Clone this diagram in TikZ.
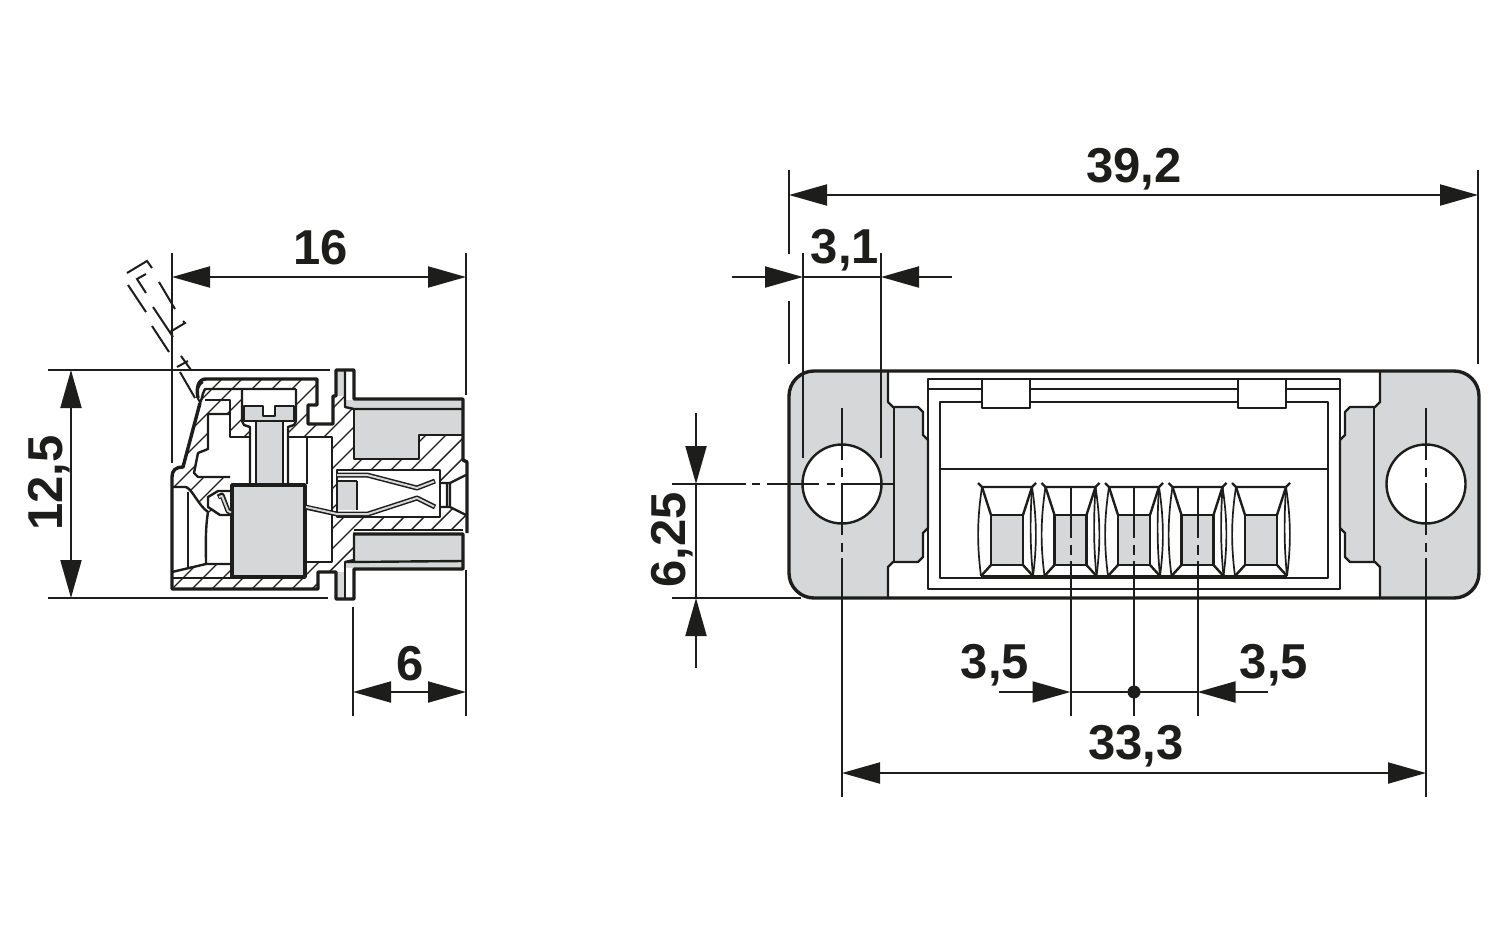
\documentclass[tikz,border=0pt]{standalone}
\usepackage{fontspec}
\setmainfont{Liberation Sans}
\usetikzlibrary{arrows.meta}
\definecolor{inkc}{HTML}{1D1D1B}
\definecolor{grayc}{HTML}{D6D7D9}
\tikzset{
  heavy/.style={draw=inkc,line width=3.4pt,line join=round},
  medium/.style={draw=inkc,line width=2.4pt,line join=round},
  lightl/.style={draw=inkc,line width=2pt},
  fineline/.style={draw=inkc,line width=1.7pt},
  hatchl/.style={draw=inkc,line width=1.4pt},
  dimline/.style={draw=inkc,line width=2pt},
  headend/.style={-{Triangle[length=38pt,width=21pt,color=inkc]}},
  headboth/.style={{Triangle[length=38pt,width=21pt,color=inkc]}-{Triangle[length=38pt,width=21pt,color=inkc]}},
  graybox/.style={fill=grayc},
  whitebox/.style={fill=white},
  dimtext/.style={inner sep=0pt,anchor=base,text=inkc,font=\fontsize{49}{52}\bfseries\selectfont},
}
\newcommand{\sockethere}[1]{%
  \begin{scope}[shift={(#1,0)}]
    \draw[medium,graybox] (-16,515) rectangle (16,565);
    \draw[medium] (-29,483)--(-25,487)--(25,487)--(29,483);
    \draw[medium] (-25,487)--(-16,515) (25,487)--(16,515) (-16,565)--(-26,576) (16,565)--(26,576);
    \draw[fineline] (-25,487) .. controls (-30,520) and (-30,545) .. (-26,576);
    \draw[fineline] (25,487) .. controls (30,520) and (30,545) .. (26,576);
    \draw[fineline] (25,487) .. controls (23,520) and (23,545) .. (26,576);
  \end{scope}}
\newcommand{\sidecentre}[1]{%
  \draw[dimline] (#1,408)--(#1,460) (#1,468)--(#1,477) (#1,483)--(#1,535) (#1,543)--(#1,552) (#1,558)--(#1,797);}
\newcommand{\pincentre}[1]{%
  \draw[dimline] (#1,487)--(#1,538) (#1,545)--(#1,555) (#1,561)--(#1,716);}
\newcommand{\fullhatch}{%
  \foreach \c in {181,201,...,681} {\draw[hatchl] (\c,360)--(\c-260,620);}}
\begin{document}
\begin{tikzpicture}[x=1pt,y=-1pt]
\useasboundingbox (0,0) rectangle (1500,937);
\fill[white] (0,0) rectangle (1500,937);

% ---------- left view: hatched section ----------
\begin{scope}
  \clip (172,589)--(172,476)--(176,469)--(183,467)--(200,403)--(198,392)--(203,379)--(317,379)--(317,405)--(308,405)--(308,424)--(333,424)--(333,396)--(345,396)--(345,407)--(354,409)--(354,459)--(419,459)--(419,435)--(463,435)--(463,460)--(467,462)--(467,533)--(353,533)--(354,560)--(345,562)--(345,572)--(318,572)--(318,589)--cycle;
  \fullhatch
\end{scope}
% white cut-outs
\fill[white] (242,389) rectangle (296,421);
\fill[white] (244,421) rectangle (294,427);
\fill[white] (230,437) rectangle (250,484);
\fill[white] (250,427) rectangle (288,484);
\fill[white] (288,437) rectangle (332,484);
\fill[white] (305,484) rectangle (332,562);
\fill[white] (208,414)--(208,449)--(198,453)--(194,473)--(198,477)--(230,477)--(230,414)--cycle;
\fill[white] (173,487)--(186,487) .. controls (193,490) and (198,505) .. (208,512)--(220,515)--(230,515)--(230,564)--(206,564)--(173,572)--cycle;
\fill[white] (208,497)--(218,491)--(232,491)--(232,515)--(220,515)--(208,507)--cycle;
\fill[white] (337,470) rectangle (440,517);
\fill[white] (440,483) rectangle (450,507);
\fill[white] (450,483)--(466,475)--(466,515)--(450,507)--cycle;
\fill[white] (345,370) rectangle (354,399);
\fill[white] (345,569) rectangle (354,599);
\fill[white] (354,530) rectangle (463,534);
% gray parts
\fill[grayc] (336,370) rectangle (345,396);
\fill[grayc] (336,572) rectangle (345,599);
\fill[grayc] (346,400) rectangle (463,408);
\fill[grayc] (346,561) rectangle (463,568);
\fill[grayc] (354,408)--(463,408)--(463,435)--(419,435)--(419,459)--(354,459)--cycle;
\fill[grayc] (354,534) rectangle (463,560);
\fill[grayc] (244,406)--(263,406)--(263,416)--(275,416)--(275,406)--(294,406)--(294,421)--(244,421)--cycle;
\fill[grayc] (256,422) rectangle (283,484);
\fill[grayc] (338,481) rectangle (357,510);
% outlines of the section
\draw[heavy] (200,403)--(183,467) .. controls (176,467) and (172,470) .. (172,477)--(172,589)--(318,589)--(318,572)--(336,572)--(336,599)--(354,599)--(354,569)--(463,569)--(463,534)--(353,534);
\draw[heavy] (198,398) .. controls (196,388) and (198,379) .. (206,379)--(317,379)--(317,405)--(308,405)--(308,424)--(333,424)--(333,396)--(336,396)--(336,370)--(354,370)--(354,399)--(463,399)--(463,460)--(467,462)--(467,533);
\draw[medium] (200,403) .. controls (204,394) and (202,392) .. (205,389)--(296,389);
\draw[medium] (242,389)--(242,421)--(244,425)--(250,427)--(250,484);
\draw[medium] (296,389)--(296,421)--(294,425)--(288,427)--(288,484);
\draw[medium] (244,421)--(244,406)--(263,406)--(263,416)--(275,416)--(275,406)--(294,406)--(294,421)--cycle;
\draw[medium] (256,422)--(256,484) (283,422)--(283,484);
\draw[medium] (205,400)--(230,400)--(230,437)--(250,437);
\draw[medium] (288,437)--(332,437)--(332,562)--(305,562);
\draw[medium] (307,437)--(307,484);
\draw[medium] (230,414)--(208,414)--(208,449)--(198,453)--(194,473)--(198,477)--(230,477);
\draw[medium] (172,487)--(186,487) .. controls (193,490) and (198,505) .. (208,512) .. controls (205,530) and (206,550) .. (206,564)--(232,564);
\draw[medium] (172,572)--(206,564);
\draw[medium] (172,578)--(232,578);
\draw[lightl] (188,492)--(188,567);
\draw[medium] (232,491)--(218,491)--(208,497)--(208,507)--(220,515)--(232,515);
\draw[heavy,graybox] (232,485) rectangle (305,577);
\draw[medium] (337,470)--(440,470)--(440,517)--(337,517)--cycle;
\draw[medium] (357,481)--(357,510);
\draw[medium] (338,481)--(357,481);
\draw[medium] (440,483)--(450,483)--(466,475) (440,507)--(450,507)--(466,515) (450,483)--(450,507) (447,483)--(447,507);
\draw[medium] (345,370)--(345,407)--(354,409)--(463,409);
\draw[medium] (354,409)--(354,459)--(419,459)--(419,435)--(463,435);
\draw[medium] (354,530)--(463,530);
\draw[medium] (354,534)--(354,560)--(345,562)--(463,561);
\draw[medium] (345,562)--(345,599);
% contact springs
\draw[draw=inkc,line width=5pt,line join=round] (337,475)--(367,475)--(417,488)--(435,481);
\draw[draw=grayc,line width=2pt,line join=round] (337,475)--(367,475)--(417,488)--(434,481.5);
\draw[draw=inkc,line width=5pt,line join=round] (305,507)--(337,514)--(368,514)--(417,498)--(435,507);
\draw[draw=grayc,line width=2pt,line join=round] (306,507)--(337,514)--(368,514)--(417,498)--(434,506.5);
\draw[draw=inkc,line width=5pt,line join=round] (218,497)--(222,495)--(228,511)--(232,513);
\draw[draw=grayc,line width=2pt,line join=round] (219,497)--(222,496)--(228,511)--(231,512.5);
% swung-out lever, dashed
\draw[lightl] (127,273)--(147,261)--(152,268);
\draw[lightl] (146,274)--(137,279)--(146,293);
\draw[lightl] (128,285)--(146,312);
\draw[lightl] (159,282)--(175,309);
\draw[lightl] (153,307)--(173,337);
\draw[lightl] (152,326)--(169,352);
\draw[lightl] (170,332)--(185,323)--(183,321);
\draw[lightl] (181,356)--(191,370);
\draw[lightl] (177,367)--(188,361);
\draw[lightl] (180,372)--(195,398);
\draw[lightl] (203,382) .. controls (197,386) and (195,396) .. (200,402);

% ---------- right view ----------
\fill[white,rounded corners=25pt] (789,371) rectangle (1479,598);
\fill[grayc,rounded corners=25pt] (789,371)--(860,371)--(860,598)--(789,598)--cycle;
\fill[grayc] (830,371)--(888,371)--(888,402)--(893,407)--(918,407)--(923,412)--(923,435)--(928,440)--(928,528)--(923,533)--(923,557)--(918,562)--(893,562)--(888,567)--(888,598)--(830,598)--cycle;
\fill[grayc,rounded corners=25pt] (1479,371)--(1408,371)--(1408,598)--(1479,598)--cycle;
\fill[grayc] (1438,371)--(1380,371)--(1380,402)--(1375,407)--(1350,407)--(1345,412)--(1345,435)--(1340,440)--(1340,528)--(1345,533)--(1345,557)--(1350,562)--(1375,562)--(1380,567)--(1380,598)--(1438,598)--cycle;
\draw[medium] (888,371)--(888,402)--(893,407)--(918,407)--(923,412)--(923,435)--(928,440)--(928,528)--(923,533)--(923,557)--(918,562)--(893,562)--(888,567)--(888,598);
\draw[medium] (1380,371)--(1380,402)--(1375,407)--(1350,407)--(1345,412)--(1345,435)--(1340,440)--(1340,528)--(1345,533)--(1345,557)--(1350,562)--(1375,562)--(1380,567)--(1380,598);
\draw[medium] (894,407)--(894,562) (1374,407)--(1374,562);
\draw[medium] (928,379) rectangle (1340,589);
\draw[medium] (928,389)--(1340,389);
\draw[medium] (940,402) rectangle (1328,578);
\draw[medium] (940,469)--(1328,469);
\draw[medium,whitebox] (982,379) rectangle (1030,408);
\draw[medium,whitebox] (1238,379) rectangle (1286,408);
\draw[medium] (981,576)--(1287,576);
\sockethere{1007}
\sockethere{1070.5}
\sockethere{1134}
\sockethere{1197.5}
\sockethere{1261}
\draw[medium,whitebox] (842,484) circle (39.5);
\draw[medium,whitebox] (1426,484) circle (39.5);
\draw[heavy,rounded corners=25pt] (789,371) rectangle (1479,598);

% centre lines
\sidecentre{842}
\sidecentre{1426}
\pincentre{1070.5}
\pincentre{1134}
\pincentre{1197.5}
\draw[dimline] (672,484)--(746,484) (752,484)--(760,484) (767,484)--(819,484) (827,484)--(835,484) (842,484)--(894,484);

% ---------- dimensions ----------
\draw[dimline] (172,253)--(172,463) (466,253)--(466,395) (466,570)--(466,716) (353,607)--(353,716);
\draw[dimline] (48,370)--(330,370) (48,598)--(328,598);
\draw[dimline,headboth] (172,277)--(466,277);
\draw[dimline,headboth] (71,370)--(71,598);
\draw[dimline,headboth] (353,692)--(466,692);
\draw[dimline] (789,170)--(789,254) (789,301)--(789,364) (1478,170)--(1478,364);
\draw[dimline] (803,253)--(803,458) (881,253)--(881,458);
\draw[dimline,headboth] (789,195)--(1478,195);
\draw[dimline,headend] (732,277)--(803,277);
\draw[dimline,headend] (952,277)--(881,277);
\draw[dimline] (803,277)--(881,277);
\draw[dimline,headend] (696,413)--(696,484);
\draw[dimline,headend] (696,668)--(696,598);
\draw[dimline] (696,484)--(696,598);
\draw[dimline] (672,598)--(801,598);
\draw[dimline,headend] (999,692)--(1070.5,692);
\draw[dimline,headend] (1268,692)--(1197.5,692);
\draw[dimline] (1070.5,692)--(1197.5,692);
\fill[inkc] (1134,692) circle (6.5);
\draw[dimline,headboth] (842,773)--(1426,773);

% ---------- texts ----------
\node[dimtext] (t16) at (321,264) {16};
\node[dimtext,rotate=90] (t125) at (62,483) {12,5};
\node[dimtext] (t6) at (410,680) {6};
\node[dimtext] (t392) at (1134,182) {39,2};
\node[dimtext] (t31) at (845,263) {3,1};
\node[dimtext,rotate=90] (t625) at (685,540) {6,25};
\node[dimtext] (t35a) at (995,678) {3,5};
\node[dimtext] (t35b) at (1274,678) {3,5};
\node[dimtext] (t333) at (1136,759) {33,3};
\end{tikzpicture}
\end{document}
